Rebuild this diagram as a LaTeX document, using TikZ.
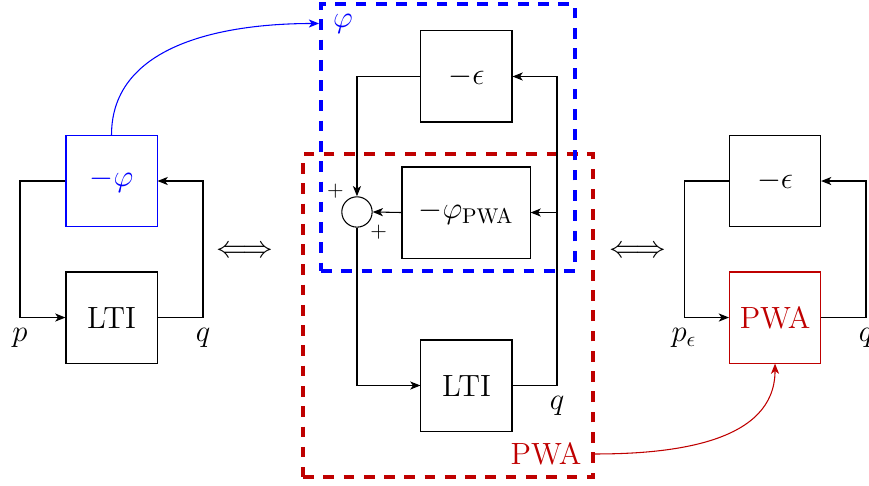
\documentclass[tikz,border=0pt]{standalone}
\usepackage{amssymb}
\usepackage{amsmath}
\usepackage{color}
\usetikzlibrary{positioning,arrows.meta}
\definecolor{pwared}{rgb}{0.75,0,0}

\tikzset{
    block/.style={draw, minimum size=1.5cm, line width=0.5pt},
    adder/.style={draw, circle, minimum size=0.5cm, inner sep=0pt, line width=0.5pt},
    region/.style={draw, line width=1.8pt, dash pattern=on 5pt off 4.5pt, inner sep=0pt},
    wire/.style={line width=0.5pt, ->}
}

\begin{document}
\begin{tikzpicture}[>={Stealth[length=4.8pt,width=3.8pt,inset=1.3pt]}, font=\Large]
    \useasboundingbox (0,0) rectangle (14.316,7.990);

    % left loop
    \node[block, draw=blue, text=blue] (phil) at (1.837,5.008) {$-\varphi$};
    \node[block] (ltil) at (1.837,2.759) {LTI};
    \coordinate (pl) at (0.329,2.759);
    \coordinate (ql) at (3.344,2.759);

    \draw[wire] (phil.west) -| (pl) -- (ltil.west);
    \draw[wire] (ltil.east) -- (ql) |- (phil.east);
    \node[below=1.7pt] (plbl) at (pl) {$p$};
    \node[below=1.7pt] (qlbl) at (ql) {$q$};

    \node (eqa) at (4.036,3.839) {$\Longleftrightarrow$};

    % middle loop
    \node[region, draw=pwared, minimum width=4.777cm, minimum height=5.321cm] (pwabox) at (7.381,2.793) {};
    \node[region, draw=blue, minimum width=4.185cm, minimum height=4.398cm] (phibox) at (7.381,5.725) {};
    \node[text=blue] (philbl) at (5.651,7.603) {$\varphi$};
    \node[text=pwared] (pwalbl) at (8.995,0.511) {PWA};

    \node[block] (epsm) at (7.685,6.730) {$-\epsilon$};
    \node[block, minimum width=2.11cm] (phipwa) at (7.677,4.489) {$-\varphi_{\mathrm{PWA}}$};
    \node[adder,
        label={[label distance=-3.5pt, font=\normalsize]135:$+$},
        label={[label distance=-3.5pt, font=\normalsize]-45:$+$}] (sum) at (5.881,4.498) {};
    \node[block] (ltim) at (7.685,1.639) {LTI};
    \coordinate (qm) at (9.176,1.639);

    \draw[wire] (epsm.west) -| (sum.north);
    \draw[wire] (phipwa.west) -- (sum.east);
    \draw[wire] (sum.south) |- (ltim.west);
    \draw[wire] (ltim.east) -- (qm) |- (epsm.east);
    \draw[wire] (qm |- phipwa.east) -- (phipwa.east);
    \node[below=1.7pt] (qmlbl) at (qm) {$q$};

    \node (eqb) at (10.511,3.839) {$\Longleftrightarrow$};

    % right loop
    \node[block] (epsr) at (12.768,5.008) {$-\epsilon$};
    \node[block, draw=pwared, text=pwared] (pwar) at (12.768,2.759) {PWA};
    \coordinate (pr) at (11.269,2.759);
    \coordinate (qr) at (14.267,2.759);

    \draw[wire] (epsr.west) -| (pr) -- (pwar.west);
    \draw[wire] (pwar.east) -- (qr) |- (epsr.east);
    \node[below=1.7pt] (prlbl) at (pr) {$p_\epsilon$};
    \node[below=1.7pt] (qrlbl) at (qr) {$q$};

    % links between the pictures
    \draw[->, blue, line width=0.5pt] (phil.north) to[out=90,in=180] (philbl.west -| phibox.west);
    \draw[->, pwared, line width=0.5pt] (pwalbl.east -| pwabox.east) to[out=0,in=-90] (pwar.south);

\end{tikzpicture}
\end{document}
